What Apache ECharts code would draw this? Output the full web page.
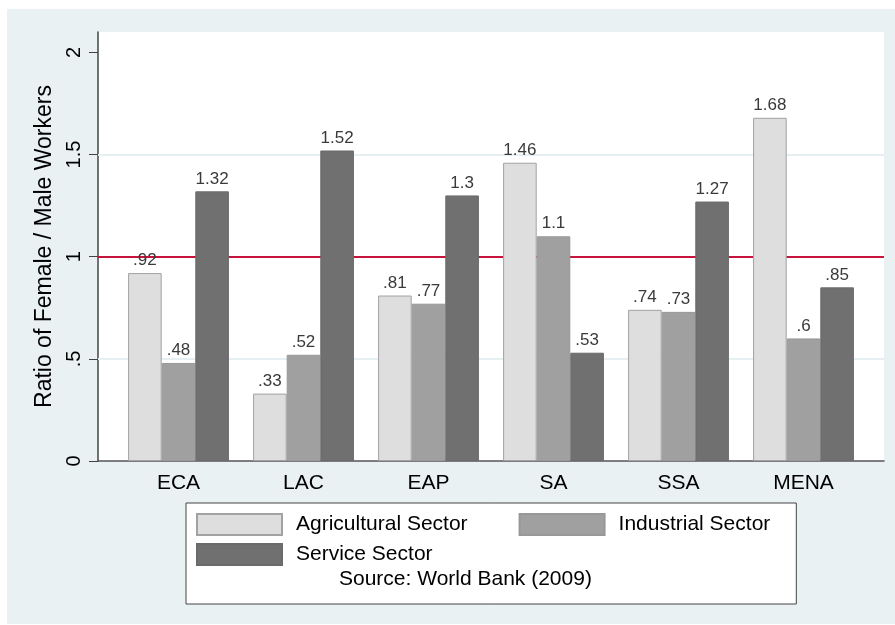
<!DOCTYPE html>
<html>
<head>
<meta charset="utf-8">
<script src="https://cdn.jsdelivr.net/npm/echarts@6/dist/echarts.min.js"></script>
<style>
html, body { margin: 0; padding: 0; background: #fff; }
#main {
	width: 895px; height: 625px;
	background-color: #fff;
	background-image: linear-gradient(#e9f1f3, #e9f1f3);
	background-position: 7px 9px;
	background-size: 888px 615px;
	background-repeat: no-repeat;
}
</style>
</head>
<body>
<div id="main"></div>
<script>
// 数据
var regions = ['ECA', 'LAC', 'EAP', 'SA', 'SSA', 'MENA'];
var agricultural = [0.92, 0.33, 0.81, 1.46, 0.74, 1.68];
var industrial = [0.48, 0.52, 0.77, 1.1, 0.73, 0.6];
var service = [1.32, 1.52, 1.3, 0.53, 1.27, 0.85];
var yTicks = [0, 0.5, 1, 1.5, 2];
var yTickLabels = ['0', '.5', '1', '1.5', '2'];
var gridValues = [0.5, 1.5];
var refValue = [1];

var FONT = '"Liberation Sans", Arial, sans-serif';

function fmt(v) {
	var s = String(v);
	return s.indexOf('0.') === 0 ? s.substring(1) : s;
}

function barSeries(name, data, fill, border) {
	return {
		name: name,
		type: 'bar',
		xAxisIndex: 0,
		yAxisIndex: 0,
		data: data,
		barWidth: 33.6,
		barGap: '0%',
		z: 10,
		itemStyle: {
			color: fill,
			borderColor: border,
			borderWidth: 1
		},
		label: {
			show: true,
			position: 'top',
			distance: 4,
			color: '#3a3a3a',
			fontFamily: FONT,
			fontSize: 17,
			formatter: function(p) { return fmt(p.value); }
		}
	};
}

var myChart = echarts.init(document.getElementById('main'));

myChart.setOption({
	backgroundColor: 'transparent',
	animation: false,
	grid: [
		{ left: 116, right: 29, top: 32, bottom: 164 }, // 柱子
		{ left: 98, right: 11, top: 32, bottom: 164, show: true, backgroundColor: '#fff', borderWidth: 0 } // 坐标轴
	],
	legend: [
		{
			data: ['Agricultural Sector', 'Industrial Sector'],
			left: 186,
			top: 503,
			orient: 'horizontal',
			padding: [10, 26, 68, 10],
			itemGap: 51,
			itemWidth: 85,
			itemHeight: 21,
			icon: 'rect',
			backgroundColor: '#fff',
			borderColor: '#444',
			borderWidth: 1,
			textStyle: { fontFamily: FONT, fontSize: 21, color: '#000', padding: [0, 0, 0, 9] }
		},
		{
			data: ['Service Sector'],
			left: 186,
			top: 533,
			padding: 10,
			itemWidth: 85,
			itemHeight: 21,
			icon: 'rect',
			textStyle: { fontFamily: FONT, fontSize: 21, color: '#000', padding: [0, 0, 0, 9] }
		}
	],
	title: {
		text: 'Source: World Bank (2009)',
		left: 339,
		top: 569,
		padding: 0,
		textStyle: { fontFamily: FONT, fontSize: 21, fontWeight: 'normal', color: '#000' }
	},
	xAxis: [
		{
			type: 'category',
			gridIndex: 0,
			data: regions,
			axisLine: { show: false },
			axisTick: { show: false },
			splitLine: { show: false },
			axisLabel: { margin: 12, fontFamily: FONT, fontSize: 21, color: '#000' }
		},
		{
			type: 'value',
			gridIndex: 1,
			min: 0,
			max: 1,
			axisLine: { show: true, onZero: false, lineStyle: { color: '#555', width: 1.5 } },
			axisTick: { show: false },
			axisLabel: { show: false },
			splitLine: { show: false }
		}
	],
	yAxis: [
		{
			type: 'value',
			gridIndex: 0,
			min: 0,
			max: 2.1,
			show: false,
			splitLine: { show: false }
		},
		{
			type: 'value',
			gridIndex: 1,
			min: 0,
			max: 2.1,
			interval: 0.5,
			name: 'Ratio of Female / Male Workers',
			nameLocation: 'middle',
			nameGap: 42,
			nameTextStyle: { fontFamily: FONT, fontSize: 23, color: '#000' },
			axisLine: { show: true, lineStyle: { color: '#444', width: 1.5 } },
			axisTick: { show: true, length: 9, customValues: yTicks, lineStyle: { color: '#444' } },
			axisLabel: {
				rotate: 90,
				margin: 14,
				customValues: yTicks,
				fontFamily: FONT,
				fontSize: 20,
				color: '#000',
				formatter: function(v) {
					var i = yTicks.indexOf(v);
					return i >= 0 ? yTickLabels[i] : '';
				}
			},
			splitLine: { show: false }
		}
	],
	series: [
		{
			type: 'line',
			xAxisIndex: 1,
			yAxisIndex: 1,
			data: [],
			z: 1,
			silent: true,
			markLine: {
				silent: true,
				z: 1,
				symbol: 'none',
				label: { show: false },
				animation: false,
				data: gridValues.map(function(v) {
					return { yAxis: v, lineStyle: { color: '#e6eff1', width: 2, type: 'solid' } };
				}).concat(refValue.map(function(v) {
					return { yAxis: v, lineStyle: { color: '#c8143c', width: 2, type: 'solid' } };
				}))
			}
		},
		barSeries('Agricultural Sector', agricultural, '#dedede', '#a2a2a2'),
		barSeries('Industrial Sector', industrial, '#a0a0a0', '#989898'),
		barSeries('Service Sector', service, '#707070', '#6a6a6a')
	]
});
</script>
</body>
</html>
